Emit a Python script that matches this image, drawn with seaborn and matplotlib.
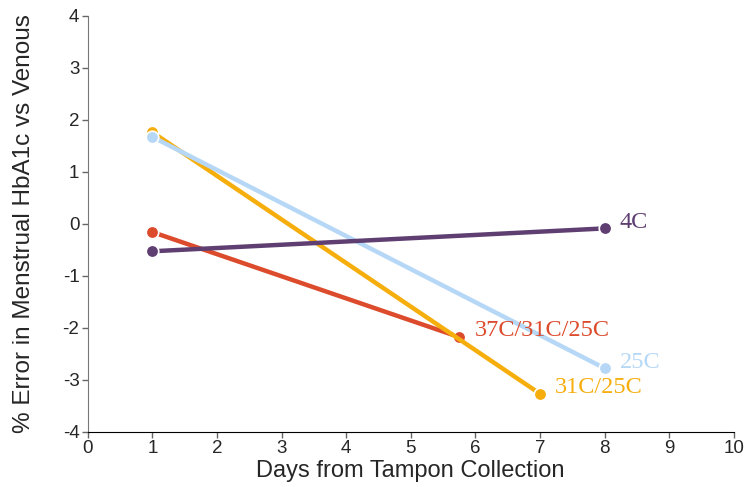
import pandas as pd
import matplotlib.pyplot as plt
import seaborn as sns

# series
series = ["37C/31C/25C", "31C/25C", "25C", "4C"]
days = {
    "37C/31C/25C": [1, 5.75],
    "31C/25C": [1, 7],
    "25C": [1, 8],
    "4C": [1, 8],
}
errors = {
    "37C/31C/25C": [-0.16, -2.18],
    "31C/25C": [1.76, -3.27],
    "25C": [1.67, -2.78],
    "4C": [-0.53, -0.09],
}
colors = {
    "37C/31C/25C": "#dc4b2c",
    "31C/25C": "#f6ae0d",
    "25C": "#b6d8f6",
    "4C": "#5f3f72",
}
x_ticks = list(range(0, 11))
y_ticks = list(range(-4, 5))

rows = []
for s in series:
    for d, e in zip(days[s], errors[s]):
        rows.append({"series": s, "day": d, "error": e})
df = pd.DataFrame(rows)

sns.set_style("ticks")
plt.rcParams["font.family"] = ["Liberation Sans", "DejaVu Sans"]
plt.rcParams["axes.unicode_minus"] = False

fig = plt.figure(figsize=(7.46, 4.87), dpi=100)
ax = fig.add_axes([0.1176, 0.1136, 0.866, 0.854])

for s in series:
    sub = df[df["series"] == s]
    sns.lineplot(data=sub, x="day", y="error", color=colors[s], lw=3.2,
                 marker="o", markersize=9, markeredgecolor="white",
                 markeredgewidth=1.2, ax=ax, legend=False)
    last = sub.iloc[-1]
    ax.annotate(s, (last["day"], last["error"]), xytext=(11, 4.5),
                textcoords="offset points", color=colors[s], fontsize=17.5,
                family="Liberation Serif", va="center")

ax.set_xlim(0, 10)
ax.set_ylim(-4, 4)
ax.set_xticks(x_ticks)
ax.set_yticks(y_ticks)
ax.tick_params(labelsize=13.5, length=4.5, width=1, color="#666666", pad=1.5)
ax.spines["right"].set_visible(False)
ax.spines["top"].set_visible(False)
ax.spines["left"].set_color("#777777")
ax.spines["bottom"].set_color("black")
ax.set_xlabel("Days from Tampon Collection", fontsize=17, labelpad=2)
ax.set_ylabel("% Error in Menstrual HbA1c vs Venous", fontsize=17.5, labelpad=20)

fig.savefig("out.png", dpi=100)
